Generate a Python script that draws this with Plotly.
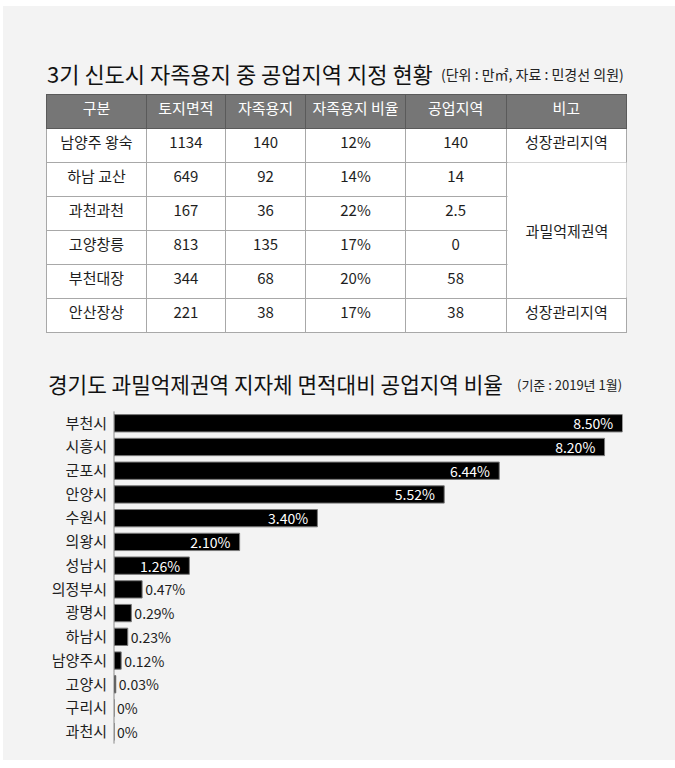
import plotly.graph_objects as go

W, H = 675, 768

# table data
header = ['구분', '토지면적', '자족용지', '자족용지\u00a0비율', '공업지역', '비고']
city = ['남양주\u00a0왕숙', '하남\u00a0교산', '과천과천', '고양창릉', '부천대장', '안산장상']
land = ['1134', '649', '167', '813', '344', '221']
selfsuff = ['140', '92', '36', '135', '68', '38']
ratio = ['12%', '14%', '22%', '17%', '20%', '17%']
industry = ['140', '14', '2.5', '0', '58', '38']
note = ['성장관리지역', '', '', '', '', '성장관리지역']
merged_note = '과밀억제권역'

# bar data
towns = ['부천시', '시흥시', '군포시', '안양시', '수원시', '의왕시', '성남시',
         '의정부시', '광명시', '하남시', '남양주시', '고양시', '구리시', '과천시']
share = [8.50, 8.20, 6.44, 5.52, 3.40, 2.10, 1.26, 0.47, 0.29, 0.23, 0.12, 0.03, 0, 0]
share_txt = ['8.50%', '8.20%', '6.44%', '5.52%', '3.40%', '2.10%', '1.26%',
             '0.47%', '0.29%', '0.23%', '0.12%', '0.03%', '0%', '0%']

FONT = 'Noto Sans CJK KR'
DARK = '#1e1e1e'

def px_x(v): return v / W
def px_y(v): return 1 - v / H

fig = go.Figure()

# table, header top at 94 px
fig.add_trace(go.Table(
  domain=dict(x=[px_x(46.5), px_x(627)], y=[px_y(345), px_y(94.3)]),
  columnwidth=[100, 79, 80.5, 99.5, 101, 120.5],
  header=dict(values=header, fill_color='#767676', height=34,
              line=dict(color='#5a5a5a', width=1),
              font=dict(family=FONT, size=15, color='white'), align='center'),
  cells=dict(values=[city, land, selfsuff, ratio, industry, note],
             fill_color='white', height=34,
             line=dict(color='#a8a8a8', width=1),
             font=dict(family=FONT, size=15, color=DARK), align='center'),
))

# bars
inside = [v >= 1 for v in share]
fig.add_trace(go.Bar(
  x=share, y=towns, orientation='h',
  text=[t + '\u00a0\u00a0' if i else t for t, i in zip(share_txt, inside)],
  textposition=['inside' if i else 'outside' for i in inside],
  insidetextanchor='end', constraintext='none',
  insidetextfont=dict(family=FONT, size=14, color='white'),
  outsidetextfont=dict(family=FONT, size=14, color=DARK),
  marker=dict(color='black', line=dict(color='#7a7a7a', width=1)),
  cliponaxis=False, hoverinfo='skip',
))
# zero baseline ticks for each row
fig.add_trace(go.Scatter(
  x=[0] * len(towns), y=towns, mode='markers',
  marker=dict(symbol='line-ns', size=17, line=dict(color='#8a8a8a', width=1)),
  hoverinfo='skip', cliponaxis=False,
))

fig.update_layout(
  width=W, height=H,
  margin=dict(l=0, r=0, t=0, b=0, autoexpand=False),
  paper_bgcolor='white', plot_bgcolor='rgba(0,0,0,0)',
  showlegend=False, bargap=0.27,
  font=dict(family=FONT, color=DARK),
  xaxis=dict(domain=[px_x(114), px_x(622.5)], range=[0, 8.5],
             visible=False, fixedrange=True),
  yaxis=dict(domain=[px_y(743.6), px_y(411.4)], range=[len(towns) - 0.5, -0.5],
             showgrid=False, zeroline=False, showline=False, ticks='',
             automargin=False,
             ticklabelstandoff=6, tickfont=dict(family=FONT, size=15, color=DARK),
             fixedrange=True),
  shapes=[dict(type='rect', xref='paper', yref='paper', layer='below',
               x0=px_x(3), x1=1, y0=px_y(760), y1=px_y(6),
               fillcolor='#f3f3f3', line=dict(width=0))],
  annotations=[
    dict(text='3기 신도시 자족용지 중 공업지역 지정 현황', x=px_x(45), y=px_y(73),
         xref='paper', yref='paper', xanchor='left', yanchor='middle', showarrow=False,
         font=dict(family=FONT, size=22, color='#111')),
    dict(text='(단위 : 만㎡, 자료 : 민경선 의원)', x=px_x(626), y=px_y(74),
         xref='paper', yref='paper', xanchor='right', yanchor='middle', showarrow=False,
         font=dict(family=FONT, size=14, color='#222')),
    dict(text='경기도 과밀억제권역 지자체 면적대비 공업지역 비율', x=px_x(46), y=px_y(383),
         xref='paper', yref='paper', xanchor='left', yanchor='middle', showarrow=False,
         font=dict(family=FONT, size=21.3, color='#111')),
    dict(text='(기준 : 2019년 1월)', x=px_x(624), y=px_y(384),
         xref='paper', yref='paper', xanchor='right', yanchor='middle', showarrow=False,
         font=dict(family=FONT, size=13, color='#222')),
    # merged cell in the 비고 column
    dict(text=merged_note, x=px_x(566.8), y=px_y(230.3),
         xref='paper', yref='paper', xanchor='center', yanchor='middle', showarrow=False,
         width=118, height=134, bgcolor='white', borderpad=0,
         font=dict(family=FONT, size=15, color=DARK)),
  ],
)

fig.write_html('out.html', config={'displayModeBar': False},
               post_script="document.body.style.margin='0';")
